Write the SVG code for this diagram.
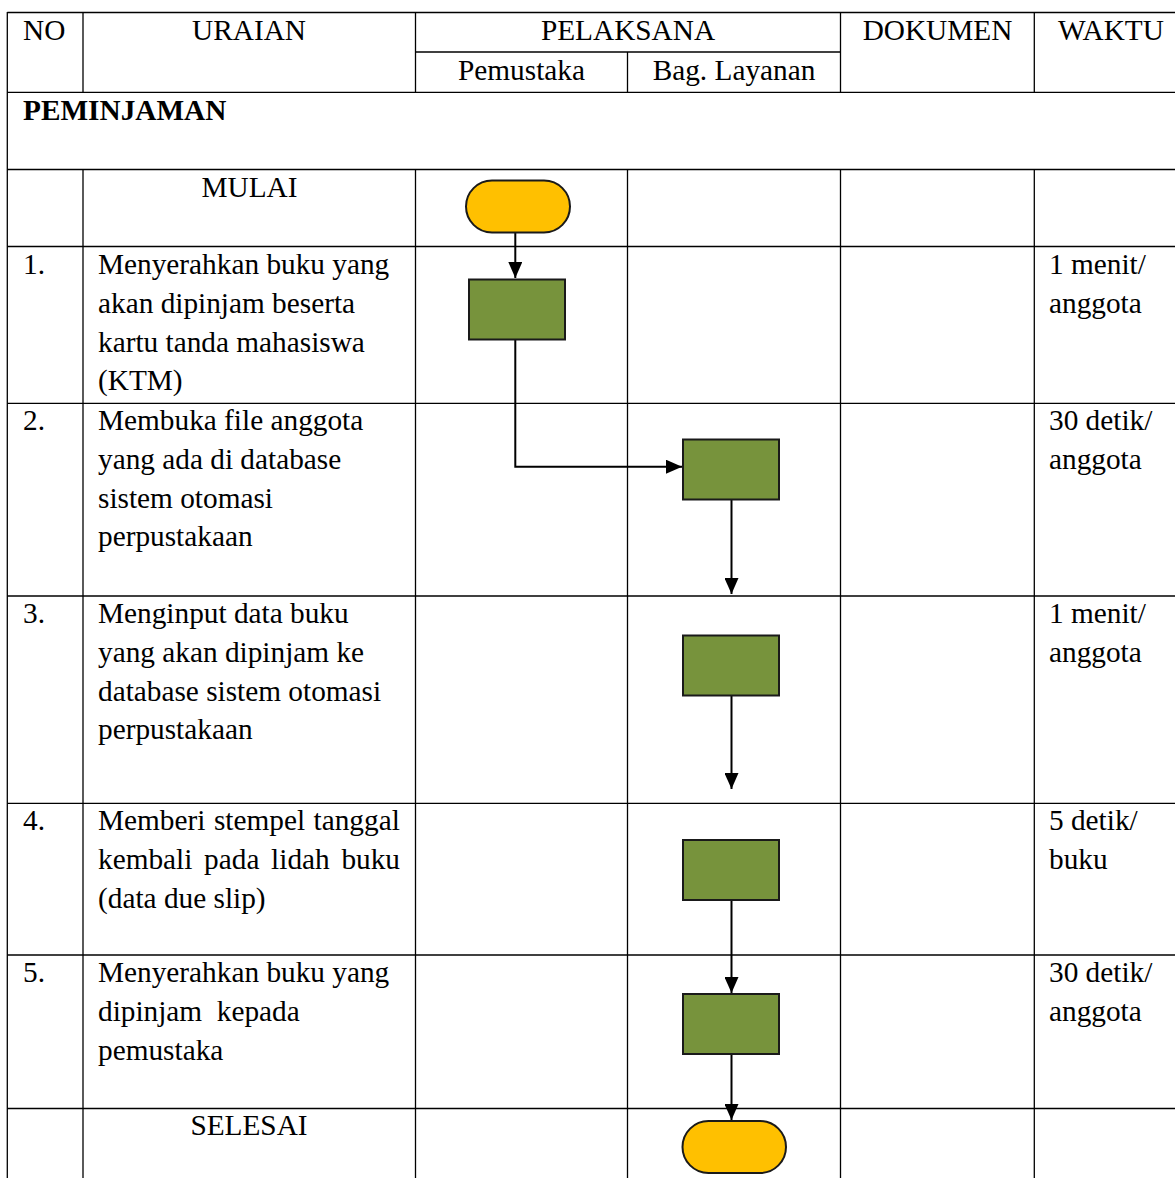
<svg xmlns="http://www.w3.org/2000/svg" width="1175" height="1178" viewBox="0 0 1175 1178">
<style>
  .grid line { stroke: #000; stroke-width: 1.3; }
  .t { font-family: "Liberation Serif", "Times New Roman", serif; font-size: 29.3px; fill: #000; }
  .c { text-anchor: middle; }
  .b { font-weight: bold; }
  .proc { fill: #77933C; stroke: #1a1a1a; stroke-width: 2; }
  .term { fill: #FFC000; stroke: #1a1a1a; stroke-width: 2; }
  .conn { fill: none; stroke: #000; stroke-width: 2; }
</style>
<defs>
  <marker id="arr" viewBox="0 0 16 14" refX="16" refY="7" markerWidth="16" markerHeight="14" markerUnits="userSpaceOnUse" orient="auto">
    <path d="M0,0 L16,7 L0,14 Z" fill="#000"/>
  </marker>
</defs>
<rect width="1175" height="1178" fill="#fff"/>

<g id="table" class="grid">
  <line x1="7.3" y1="12.5" x2="1175" y2="12.5"/>
  <line x1="415.5" y1="52" x2="840.5" y2="52"/>
  <line x1="7.3" y1="92.3" x2="1175" y2="92.3"/>
  <line x1="7.3" y1="169.5" x2="1175" y2="169.5"/>
  <line x1="7.3" y1="246.5" x2="1175" y2="246.5"/>
  <line x1="7.3" y1="403.3" x2="1175" y2="403.3"/>
  <line x1="7.3" y1="596" x2="1175" y2="596"/>
  <line x1="7.3" y1="803.3" x2="1175" y2="803.3"/>
  <line x1="7.3" y1="955" x2="1175" y2="955"/>
  <line x1="7.3" y1="1108.5" x2="1175" y2="1108.5"/>
  <line x1="7.3" y1="12" x2="7.3" y2="1178"/>
  <line x1="83" y1="12" x2="83" y2="92.3"/>
  <line x1="83" y1="169.5" x2="83" y2="1178"/>
  <line x1="415.5" y1="12" x2="415.5" y2="92.3"/>
  <line x1="415.5" y1="169.5" x2="415.5" y2="1178"/>
  <line x1="627.5" y1="52" x2="627.5" y2="92.3"/>
  <line x1="627.5" y1="169.5" x2="627.5" y2="1178"/>
  <line x1="840.5" y1="12" x2="840.5" y2="92.3"/>
  <line x1="840.5" y1="169.5" x2="840.5" y2="1178"/>
  <line x1="1034.3" y1="12" x2="1034.3" y2="92.3"/>
  <line x1="1034.3" y1="169.5" x2="1034.3" y2="1178"/>
</g>

<g id="header" class="t">
  <text x="23" y="40">NO</text>
  <text class="c" x="249" y="40">URAIAN</text>
  <text class="c" x="628" y="40">PELAKSANA</text>
  <text class="c" x="521.5" y="80">Pemustaka</text>
  <text class="c" x="734" y="80">Bag. Layanan</text>
  <text class="c" x="937.5" y="40">DOKUMEN</text>
  <text class="c" x="1111" y="40">WAKTU</text>
  <text class="b" x="23" y="120">PEMINJAMAN</text>
</g>

<g id="row-texts" class="t">
  <text class="c" x="249.5" y="197">MULAI</text>

  <text x="23" y="274">1.</text>
  <text x="98" y="274">Menyerahkan buku yang</text>
  <text x="98" y="313">akan dipinjam beserta</text>
  <text x="98" y="352">kartu tanda mahasiswa</text>
  <text x="98" y="390">(KTM)</text>
  <text x="1049" y="274">1 menit/</text>
  <text x="1049" y="313">anggota</text>

  <text x="23" y="430">2.</text>
  <text x="98" y="430">Membuka file anggota</text>
  <text x="98" y="469">yang ada di database</text>
  <text x="98" y="508">sistem otomasi</text>
  <text x="98" y="546">perpustakaan</text>
  <text x="1049" y="430">30 detik/</text>
  <text x="1049" y="469">anggota</text>

  <text x="23" y="623">3.</text>
  <text x="98" y="623">Menginput data buku</text>
  <text x="98" y="662">yang akan dipinjam ke</text>
  <text x="98" y="701">database sistem otomasi</text>
  <text x="98" y="739">perpustakaan</text>
  <text x="1049" y="623">1 menit/</text>
  <text x="1049" y="662">anggota</text>

  <text x="23" y="830">4.</text>
  <text x="98" y="830" word-spacing="1.2">Memberi stempel tanggal</text>
  <text x="98" y="869" word-spacing="4.4">kembali pada lidah buku</text>
  <text x="98" y="908">(data due slip)</text>
  <text x="1049" y="830">5 detik/</text>
  <text x="1049" y="869">buku</text>

  <text x="23" y="982">5.</text>
  <text x="98" y="982">Menyerahkan buku yang</text>
  <text x="98" y="1021" xml:space="preserve">dipinjam  kepada</text>
  <text x="98" y="1060">pemustaka</text>
  <text x="1049" y="982">30 detik/</text>
  <text x="1049" y="1021">anggota</text>

  <text class="c" x="249" y="1135">SELESAI</text>
</g>

<g id="connectors">
  <path class="conn" d="M515.3,233 L515.3,278" marker-end="url(#arr)"/>
  <path class="conn" d="M515.3,340 L515.3,466.7 L682,466.7" marker-end="url(#arr)"/>
  <path class="conn" d="M731.5,499.5 L731.5,594" marker-end="url(#arr)"/>
  <path class="conn" d="M731.5,695.5 L731.5,789" marker-end="url(#arr)"/>
  <path class="conn" d="M731.5,900 L731.5,993" marker-end="url(#arr)"/>
  <path class="conn" d="M731.5,1054 L731.5,1120" marker-end="url(#arr)"/>
</g>

<g id="node-mulai"><rect class="term" x="466" y="180.5" width="104" height="52" rx="26" ry="26"/></g>
<g id="node-1"><rect class="proc" x="469" y="279.5" width="96" height="60"/></g>
<g id="node-2"><rect class="proc" x="683" y="439.5" width="96" height="60"/></g>
<g id="node-3"><rect class="proc" x="683" y="635.5" width="96" height="60"/></g>
<g id="node-4"><rect class="proc" x="683" y="840" width="96" height="60"/></g>
<g id="node-5"><rect class="proc" x="683" y="994" width="96" height="60"/></g>
<g id="node-selesai"><rect class="term" x="682.5" y="1121" width="103.5" height="52" rx="26" ry="26"/></g>
</svg>
